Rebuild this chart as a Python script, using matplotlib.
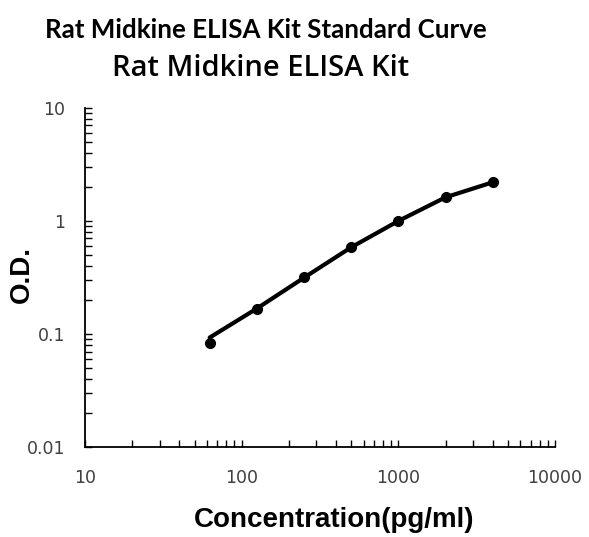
import matplotlib
matplotlib.use("Agg")
import matplotlib.pyplot as plt
from matplotlib.ticker import LogLocator, FixedFormatter, FixedLocator, NullFormatter

# standard concentrations and measured optical density
conc = [62.5, 125, 250, 500, 1000, 2000, 4000]
od = [0.084, 0.168, 0.32, 0.59, 1.0, 1.63, 2.21]
# fitted curve values read at the same concentrations
fit_od = [0.093, 0.168, 0.315, 0.585, 1.0, 1.62, 2.2]

x_ticks = [10, 100, 1000, 10000]
x_labels = ["10", "100", "1000", "10000"]
y_ticks = [0.01, 0.1, 1, 10]
y_labels = ["0.01", "0.1", "1", "10"]

fig = plt.figure(figsize=(5.89, 5.37), dpi=100)
ax = fig.add_axes([0.1443, 0.1676, 0.798, 0.6313])

ax.plot(conc, fit_od, color="black", linewidth=3, solid_capstyle="round")
ax.plot(conc, od, "o", color="black", markersize=7)

ax.set_xscale("log")
ax.set_yscale("log")
ax.set_xlim(10, 10000)
ax.set_ylim(0.01, 10)

ax.xaxis.set_major_locator(FixedLocator(x_ticks))
ax.xaxis.set_major_formatter(FixedFormatter(x_labels))
ax.yaxis.set_major_locator(FixedLocator(y_ticks))
ax.yaxis.set_major_formatter(FixedFormatter(y_labels))
ax.xaxis.set_minor_locator(LogLocator(base=10, subs=range(2, 10)))
ax.yaxis.set_minor_locator(LogLocator(base=10, subs=range(2, 10)))
ax.xaxis.set_minor_formatter(NullFormatter())
ax.yaxis.set_minor_formatter(NullFormatter())

for s in ["top", "right"]:
    ax.spines[s].set_visible(False)
for s in ["left", "bottom"]:
    ax.spines[s].set_linewidth(1.3)

ax.tick_params(axis="both", which="both", direction="in", width=1, color="black", length=5)
ax.tick_params(axis="x", which="major", pad=16, labelsize=12.5, labelcolor="#404040")
ax.tick_params(axis="y", which="major", pad=14, labelsize=12.5, labelcolor="#404040")

# axis titles placed as figure text so they sit where the reference has them
fig.text(0.567, 0.032, "Concentration(pg/ml)", ha="center", va="center",
         fontsize=20, fontweight="bold", family="Liberation Sans")
fig.text(0.037, 0.488, "O.D.", ha="center", va="center", rotation=90,
         fontsize=20, fontweight="bold", family="Liberation Sans")

fig.text(0.452, 0.944, "Rat Midkine ELISA Kit Standard Curve", ha="center", va="center",
         fontsize=18.6, fontweight="bold", family="Lato")
fig.text(0.442, 0.873, "Rat Midkine ELISA Kit", ha="center", va="center",
         fontsize=21, fontweight="semibold", family="Open Sans")

fig.savefig("out.png", dpi=100)
